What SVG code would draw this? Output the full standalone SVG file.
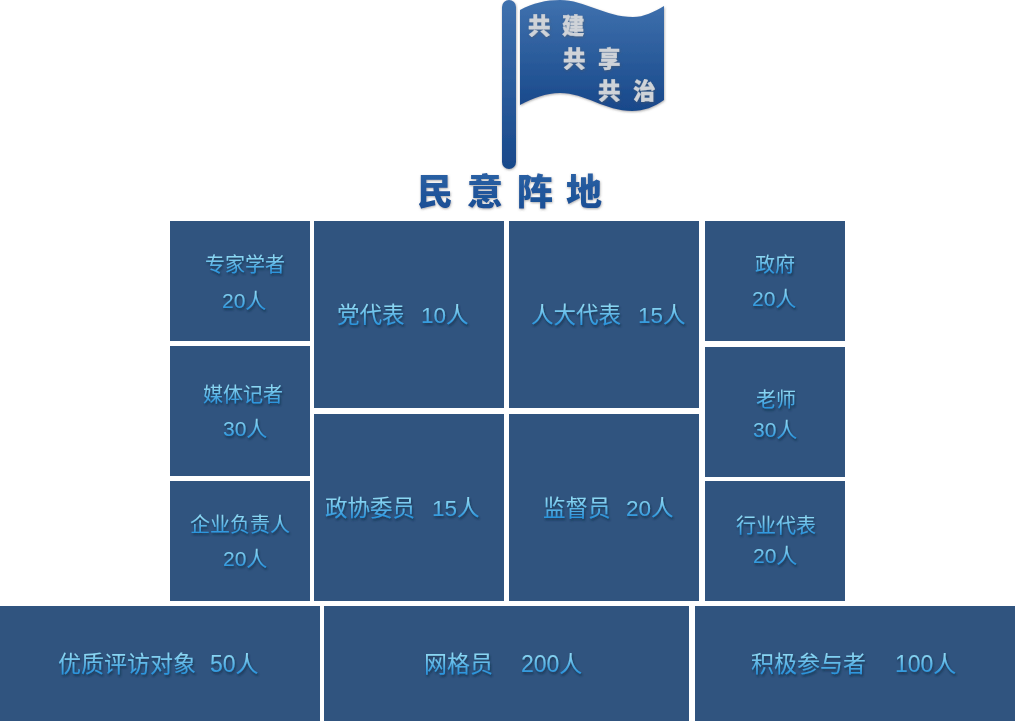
<svg xmlns="http://www.w3.org/2000/svg" width="1015" height="721" viewBox="0 0 1015 721">
<style>
.b{fill:#30547f}
.t{font-family:"Liberation Sans","Noto Sans CJK SC",sans-serif;fill:url(#tg);filter:url(#ts)}
.s{font-size:20px}
.n{font-size:21px}
.m{font-size:22.5px}
.l{font-size:23px}
.f{font-family:"Noto Sans CJK SC",sans-serif;font-weight:900;fill:#cfd3d8;stroke:#cfd3d8;stroke-width:0.3;font-size:22.5px;filter:url(#fs)}
.h{font-family:"Noto Sans CJK SC",sans-serif;font-weight:900;fill:url(#hg);font-size:36px;filter:url(#fs)}
</style>
<defs>
<linearGradient id="tg" x1="0" y1="0" x2="0" y2="1"><stop offset="0.15" stop-color="#8ad6f2"/><stop offset="0.85" stop-color="#2b94dc"/></linearGradient>
<linearGradient id="fg" x1="0" y1="0" x2="0" y2="1"><stop offset="0" stop-color="#3f71ae"/><stop offset="1" stop-color="#18488a"/></linearGradient>
<linearGradient id="hg" x1="0" y1="0" x2="0" y2="1"><stop offset="0" stop-color="#2f65a8"/><stop offset="1" stop-color="#164b92"/></linearGradient>
<filter id="ts" x="-10%" y="-30%" width="120%" height="170%"><feDropShadow dx="1" dy="2" stdDeviation="1" flood-color="#12263f" flood-opacity="0.7"/></filter>
<filter id="fs" x="-10%" y="-10%" width="120%" height="130%"><feDropShadow dx="0.5" dy="1" stdDeviation="0.8" flood-color="#555" flood-opacity="0.5"/></filter>
</defs>
<g id="flag">
<rect x="502" y="0" width="14" height="169" rx="7" fill="url(#fg)" filter="url(#fs)"/>
<path d="M520 10C533 3 546 0 560 0C585 0 605 17 633 17C644 17 654 12 664 6V100C654 107 644 111 632 111C605 111 585 93 560 93C546 93 533 98 520 105Z" fill="url(#fg)" filter="url(#fs)"/>
<text class="f" x="528" y="34">共</text><text class="f" x="562" y="34">建</text>
<text class="f" x="563" y="67">共</text><text class="f" x="598" y="67">享</text>
<text class="f" x="598" y="99">共</text><text class="f" x="633" y="99">治</text>
</g>
<g id="title">
<text class="h" x="417" y="205">民</text><text class="h" x="467" y="205">意</text><text class="h" x="517" y="205">阵</text><text class="h" x="566" y="205">地</text>
</g>
<g id="n1"><rect class="b" x="170" y="221" width="140" height="120"/><text class="t s" x="205" y="272">专家学者</text><text class="t n" x="222" y="308">20人</text></g>
<g id="n2"><rect class="b" x="170" y="346" width="140" height="130"/><text class="t s" x="203" y="402">媒体记者</text><text class="t n" x="223" y="436">30人</text></g>
<g id="n3"><rect class="b" x="170" y="481" width="140" height="120"/><text class="t s" x="190" y="532">企业负责人</text><text class="t n" x="223" y="566">20人</text></g>
<g id="n4"><rect class="b" x="314" y="221" width="190" height="187"/><text class="t m" x="337" y="323">党代表</text><text class="t m" x="421" y="323">10人</text></g>
<g id="n5"><rect class="b" x="509" y="221" width="190" height="187"/><text class="t m" x="531" y="323">人大代表</text><text class="t m" x="638" y="323">15人</text></g>
<g id="n6"><rect class="b" x="314" y="414" width="190" height="187"/><text class="t m" x="325" y="516">政协委员</text><text class="t m" x="432" y="516">15人</text></g>
<g id="n7"><rect class="b" x="509" y="414" width="190" height="187"/><text class="t m" x="543" y="516">监督员</text><text class="t m" x="626" y="516">20人</text></g>
<g id="n8"><rect class="b" x="705" y="221" width="140" height="120"/><text class="t s" x="755" y="272">政府</text><text class="t n" x="752" y="306">20人</text></g>
<g id="n9"><rect class="b" x="705" y="347" width="140" height="130"/><text class="t s" x="756" y="407">老师</text><text class="t n" x="753" y="437">30人</text></g>
<g id="n10"><rect class="b" x="705" y="481" width="140" height="120"/><text class="t s" x="736" y="533">行业代表</text><text class="t n" x="753" y="563">20人</text></g>
<g id="n11"><rect class="b" x="0" y="606" width="320" height="115"/><text class="t l" x="58" y="672">优质评访对象</text><text class="t l" x="210" y="672">50人</text></g>
<g id="n12"><rect class="b" x="324" y="606" width="365" height="115"/><text class="t l" x="424" y="672">网格员</text><text class="t l" x="521" y="672">200人</text></g>
<g id="n13"><rect class="b" x="695" y="606" width="320" height="115"/><text class="t l" x="751" y="672">积极参与者</text><text class="t l" x="895" y="672">100人</text></g>
<g id="connectors"></g>
</svg>
